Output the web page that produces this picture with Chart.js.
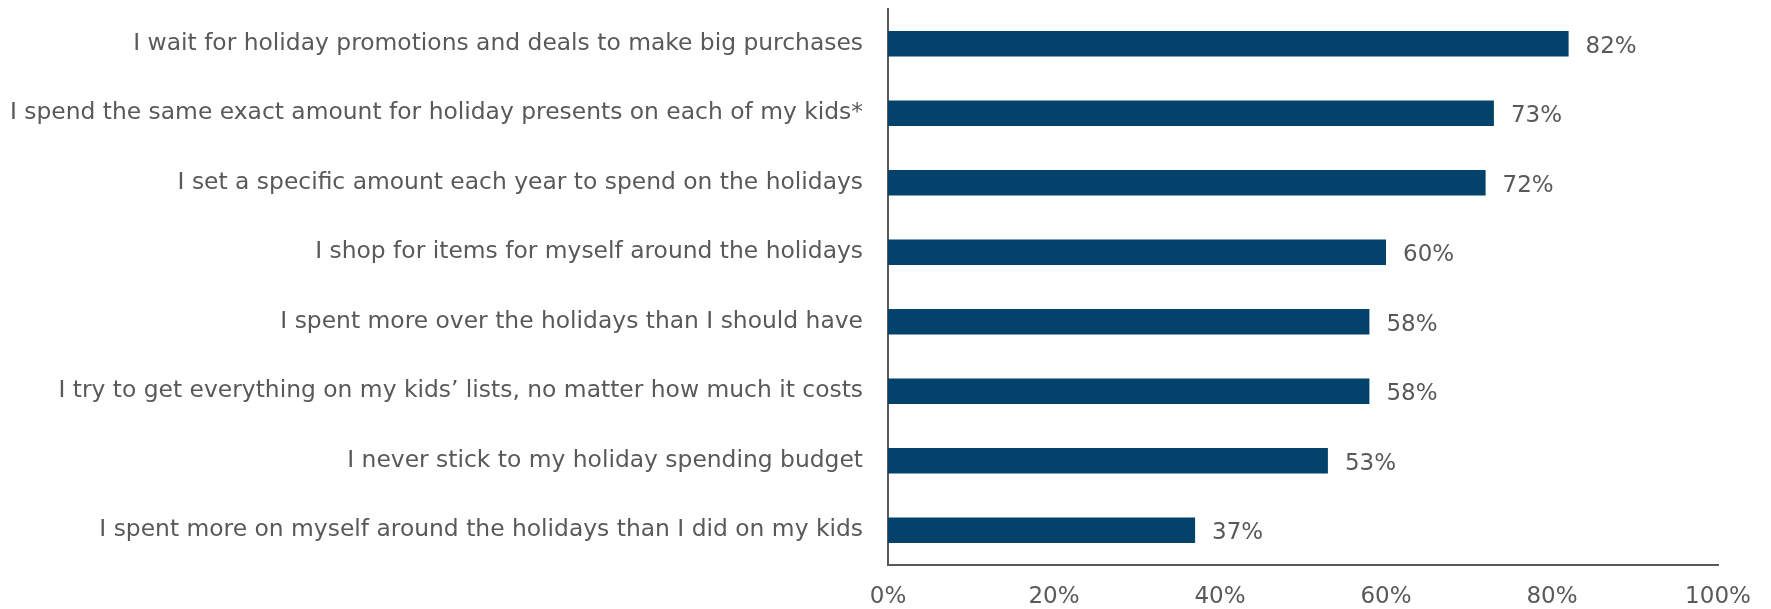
<!DOCTYPE html>
<html>
<head>
<meta charset="utf-8">
<title>Holiday spending attitudes</title>
<script src="https://cdn.jsdelivr.net/npm/chart.js@4/dist/chart.umd.min.js"></script>
<style>
  html, body { margin: 0; padding: 0; background: #fff; }
  #wrap { width: 1771px; height: 609px; }
</style>
</head>
<body>
<div id="wrap"><canvas id="chart" width="1771" height="609"></canvas></div>
<script>
// statements, top to bottom
const statements = [
    'I wait for holiday promotions and deals to make big purchases',
    'I spend the same exact amount for holiday presents on each of my kids*',
    'I set a specific amount each year to spend on the holidays',
    'I shop for items for myself around the holidays',
    'I spent more over the holidays than I should have',
    'I try to get everything on my kids\u2019 lists, no matter how much it costs',
    'I never stick to my holiday spending budget',
    'I spent more on myself around the holidays than I did on my kids'
];
// share agreeing, in percent
const agreePct = [82, 73, 72, 60, 58, 58, 53, 37];
// x axis ticks
const xTicks = [0, 20, 40, 60, 80, 100];

const textColor = '#595959';
const barColor = '#03426A';
const fontFamily = '"DejaVu Sans", "Liberation Sans", Arial, sans-serif';
const fontSize = 23;

// value labels to the right of each bar
const barValueLabels = {
    id: 'barValueLabels',
    afterDatasetsDraw(chart) {
        const ctx = chart.ctx;
        const meta = chart.getDatasetMeta(0);
        ctx.save();
        ctx.font = fontSize + 'px ' + fontFamily;
        ctx.fillStyle = textColor;
        ctx.textAlign = 'left';
        ctx.textBaseline = 'middle';
        meta.data.forEach((bar, i) => {
            ctx.fillText(agreePct[i] + '%', bar.x + 17, bar.y + 3);
        });
        ctx.restore();
    }
};

new Chart(document.getElementById('chart'), {
    type: 'bar',
    data: {
        labels: statements,
        datasets: [{
            data: agreePct,
            backgroundColor: barColor,
            borderWidth: 0,
            barPercentage: 0.37,
            categoryPercentage: 1
        }]
    },
    options: {
        indexAxis: 'y',
        responsive: false,
        animation: false,
        layout: { padding: { top: 9, right: 53, left: 0, bottom: 0 } },
        plugins: {
            legend: { display: false },
            tooltip: { enabled: false }
        },
        scales: {
            x: {
                min: 0,
                max: 100,
                afterBuildTicks: scale => {
                    scale.ticks = xTicks.map(v => ({ value: v }));
                },
                afterFit: scale => { scale.height = 44; },
                grid: { display: false, drawTicks: false },
                border: { display: true, color: textColor, width: 2 },
                ticks: {
                    color: textColor,
                    font: { family: fontFamily, size: fontSize },
                    padding: 18,
                    maxRotation: 0,
                    callback: v => v + '%'
                }
            },
            y: {
                afterFit: scale => {
                    scale.width = 888;
                    // keep the plot top flush with the layout padding
                    scale.paddingTop = 0;
                    scale.paddingBottom = 0;
                },
                grid: { display: false, drawTicks: false },
                border: { display: true, color: textColor, width: 2 },
                ticks: {
                    color: textColor,
                    font: { family: fontFamily, size: 23.4 },
                    padding: 25,
                    autoSkip: false
                }
            }
        }
    },
    plugins: [barValueLabels]
});
</script>
</body>
</html>
